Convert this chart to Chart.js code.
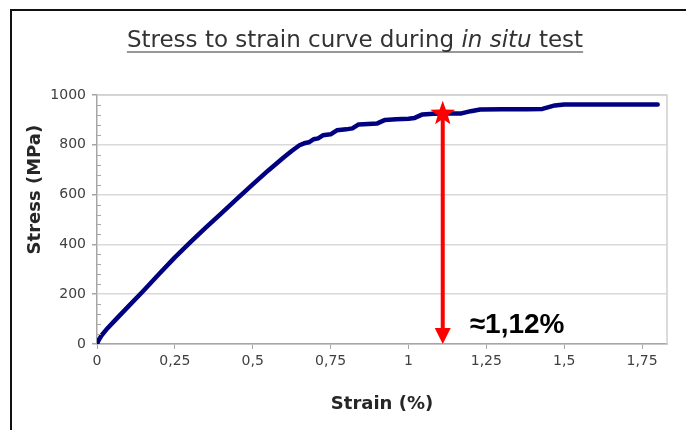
<!DOCTYPE html>
<html><head><meta charset="utf-8">
<script src="https://cdn.jsdelivr.net/npm/chart.js@4"></script>
<style>html,body{margin:0;padding:0;background:#fff;}canvas{display:block;}</style>
</head><body>
<canvas id="c" width="686" height="430"></canvas>
<script>
// ---- data ----
const strain = [0, 0.005, 0.015, 0.03, 0.06, 0.1, 0.15, 0.2, 0.25, 0.3, 0.35, 0.4, 0.45, 0.5, 0.55, 0.6, 0.625, 0.65, 0.665, 0.68, 0.695, 0.71, 0.725, 0.75, 0.77, 0.8, 0.82, 0.84, 0.87, 0.9, 0.925, 0.96, 1.0, 1.02, 1.045, 1.08, 1.12, 1.17, 1.2, 1.23, 1.3, 1.38, 1.43, 1.47, 1.5, 1.6, 1.7, 1.8];
const stress = [0, 15, 35, 58, 98, 150, 215, 282, 348, 409, 468, 526, 584, 641, 697, 750, 775, 798, 806, 810, 822, 826, 838, 842, 858, 862, 866, 882, 884, 886, 900, 903, 905, 908, 922, 925, 926, 926, 935, 942, 943, 943, 944, 958, 962, 962, 962, 962];
const xTicks = [0, 0.25, 0.5, 0.75, 1, 1.25, 1.5, 1.75];
const yMajorTicks = [0, 200, 400, 600, 800, 1000];
const yMinorStep = 40;
const markerStrain = [1.11];
const markerStress = [925];
const markerLabel = ['≈1,12%'];
const titleParts = [['Stress to strain curve during ', false], ['in situ', true], [' test', false]];
const xTitle = 'Strain (%)';
const yTitle = 'Stress (MPa)';

const FONT = "'DejaVu Sans', 'Liberation Sans', Arial, sans-serif";

const decor = {
  id: 'decor',
  afterDraw(chart) {
    const ctx = chart.ctx, a = chart.chartArea, xs = chart.scales.x, ys = chart.scales.y;
    ctx.save();
    // outer frame (left + top)
    ctx.strokeStyle = '#111'; ctx.lineWidth = 2;
    ctx.beginPath(); ctx.moveTo(11, 430); ctx.lineTo(11, 10); ctx.lineTo(686, 10); ctx.stroke();
    // plot area border top/right
    ctx.strokeStyle = '#d0d0d0'; ctx.lineWidth = 1.5;
    ctx.beginPath(); ctx.moveTo(a.left, a.top); ctx.lineTo(a.right, a.top); ctx.lineTo(a.right, a.bottom); ctx.stroke();
    // minor ticks inside y axis
    ctx.strokeStyle = '#a6a6a6'; ctx.lineWidth = 1;
    for (let v = 0; v <= ys.max; v += yMinorStep) {
      if (yMajorTicks.includes(v)) continue;
      const y = Math.round(ys.getPixelForValue(v)) + 0.5;
      ctx.beginPath(); ctx.moveTo(a.left, y); ctx.lineTo(a.left + 4, y); ctx.stroke();
    }
    // title
    ctx.fillStyle = '#333'; ctx.textBaseline = 'alphabetic';
    const size = 23;
    let total = 0; const widths = [];
    titleParts.forEach(([t, it]) => { ctx.font = (it ? 'italic ' : '') + size + 'px ' + FONT; const w = ctx.measureText(t).width; widths.push(w); total += w; });
    let x = 355 - total / 2; const base = 47;
    titleParts.forEach(([t, it], i) => { ctx.font = (it ? 'italic ' : '') + size + 'px ' + FONT; ctx.fillText(t, x, base); x += widths[i]; });
    ctx.strokeStyle = '#333'; ctx.lineWidth = 1.2;
    ctx.beginPath(); ctx.moveTo(355 - total / 2, base + 5); ctx.lineTo(355 + total / 2, base + 5); ctx.stroke();
    // y title
    ctx.save();
    ctx.translate(35, a.top + (a.bottom - a.top) * 0.38);
    ctx.rotate(-Math.PI / 2);
    ctx.font = 'bold 18px ' + FONT; ctx.fillStyle = '#262626'; ctx.textAlign = 'center'; ctx.textBaseline = 'middle';
    ctx.fillText(yTitle, 0, 0);
    ctx.restore();
    // marker: arrow + star + label
    markerStrain.forEach((ms, i) => {
      const px = xs.getPixelForValue(ms), py = ys.getPixelForValue(markerStress[i]), by = ys.getPixelForValue(0);
      ctx.strokeStyle = '#ff0000'; ctx.fillStyle = '#ff0000'; ctx.lineWidth = 4;
      ctx.beginPath(); ctx.moveTo(px, py); ctx.lineTo(px, by - 14); ctx.stroke();
      ctx.beginPath(); ctx.moveTo(px - 8, by - 16); ctx.lineTo(px + 8, by - 16); ctx.lineTo(px, by); ctx.closePath(); ctx.fill();
      // star
      const R = 13, r = 5.3;
      ctx.beginPath();
      for (let k = 0; k < 10; k++) {
        const ang = -Math.PI / 2 + k * Math.PI / 5, rad = k % 2 ? r : R;
        const sx = px + rad * Math.cos(ang), sy = py + rad * Math.sin(ang);
        k ? ctx.lineTo(sx, sy) : ctx.moveTo(sx, sy);
      }
      ctx.closePath(); ctx.fill();
      ctx.fillStyle = '#000'; ctx.font = "bold 28px 'Liberation Sans', Arial, sans-serif";
      ctx.textAlign = 'left'; ctx.textBaseline = 'alphabetic';
      ctx.fillText(markerLabel[i], px + 27, by - 11);
    });
    ctx.restore();
  }
};

new Chart(document.getElementById('c'), {
  type: 'line',
  data: {
    datasets: [{
      data: strain.map((s, i) => ({ x: s, y: stress[i] })),
      borderColor: '#000080', borderWidth: 4.5, pointRadius: 0, tension: 0,
      borderCapStyle: 'round', borderJoinStyle: 'round', fill: false
    }]
  },
  options: {
    responsive: false, animation: false, devicePixelRatio: 1,
    layout: { padding: { top: 95, right: 19, bottom: 0, left: 0 } },
    plugins: { legend: { display: false }, tooltip: { enabled: false }, title: { display: false } },
    scales: {
      x: {
        type: 'linear', min: 0, max: 1.83,
        afterBuildTicks: s => { s.ticks = xTicks.map(v => ({ value: v })); },
        afterFit: s => { s.height = 86; },
        ticks: { autoSkip: false, maxRotation: 0, color: '#404040', font: { family: FONT, size: 14 }, padding: 4,
          callback: v => String(v).replace('.', ',') },
        grid: { drawOnChartArea: false, tickLength: 5, tickColor: '#a6a6a6' },
        border: { color: '#a6a6a6', width: 1.5 },
        title: { display: true, text: xTitle, color: '#262626', font: { family: FONT, size: 18, weight: 'bold' }, padding: { top: 0, bottom: 15 } }
      },
      y: {
        type: 'linear', min: 0, max: 1000,
        afterBuildTicks: s => { s.ticks = yMajorTicks.map(v => ({ value: v })); },
        afterFit: s => { s.width = 97; },
        ticks: { autoSkip: false, color: '#404040', font: { family: FONT, size: 14 }, padding: 6,
          callback: v => String(v) },
        grid: { color: '#d9d9d9', lineWidth: 1.5, tickLength: 5, tickColor: '#a6a6a6' },
        border: { color: '#a6a6a6', width: 1.5 }
      }
    }
  },
  plugins: [decor]
});
</script>
</body></html>
